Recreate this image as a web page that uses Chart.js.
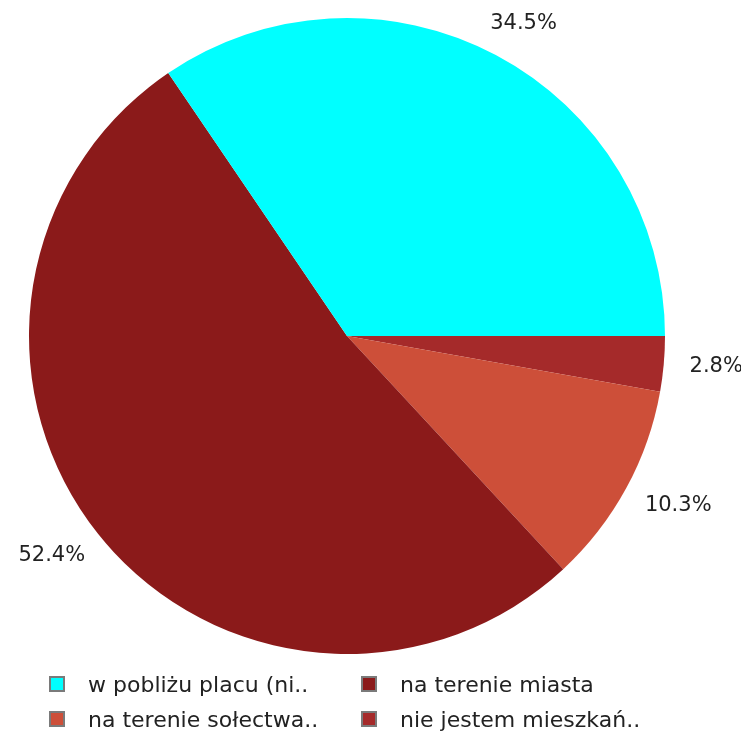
<!DOCTYPE html>
<html>
<head>
<meta charset="utf-8">
<script src="https://cdn.jsdelivr.net/npm/chart.js@4/dist/chart.umd.min.js"></script>
<style>
  body { margin: 0; background: #fff; }
  .wrap { position: relative; width: 741px; height: 736px; }
  .legend { position: absolute; left: 0; top: 0; width: 741px; height: 736px; pointer-events: none;
            font-family: "DejaVu Sans", sans-serif; font-size: 22px; color: #222; }
  .legend__item { position: absolute; white-space: nowrap; line-height: 24px; }
  .legend__box { position: absolute; left: 0; top: 3px; width: 16px; height: 16px; border: 2px solid #7a7a7a; box-sizing: border-box; }
  .legend__text { position: absolute; left: 39px; top: 0; }
</style>
</head>
<body>
<div class="wrap">
  <canvas id="pie" width="741" height="736"></canvas>
  <div class="legend" id="legend"></div>
</div>
<script>
const categories = ['w pobliżu placu (ni..', 'na terenie miasta', 'na terenie sołectwa..', 'nie jestem mieszkań..']
const values = [34.5, 52.4, 10.3, 2.8]
const colors = ['#00ffff', '#8b1a1a', '#cd4f39', '#a52a2a']
const percentLabels = ['34.5%', '52.4%', '10.3%', '2.8%']

// the reference runs counter-clockwise from 3 o'clock, chart.js runs clockwise,
// so feed the slices in reverse
const order = [3, 2, 1, 0]

const pieLabels = {
    id: 'pieLabels',
    afterDatasetsDraw(chart) {
        const c = chart.ctx
        const meta = chart.getDatasetMeta(0)
        c.save()
        c.font = '21px "DejaVu Sans", sans-serif'
        c.fillStyle = '#222'
        c.textAlign = 'center'
        c.textBaseline = 'middle'
        meta.data.forEach((arc, i) => {
            const mid = (arc.startAngle + arc.endAngle) / 2
            const txt = percentLabels[order[i]]
            const halfW = c.measureText(txt).width / 2
            const halfH = 9
            const r = arc.outerRadius + 26
            // push the text box out so its inner edge sits on the anchor
            const x = arc.x + Math.cos(mid) * r + Math.cos(mid) * halfW
            const y = arc.y + Math.sin(mid) * r + Math.sin(mid) * halfH
            c.fillText(txt, x, y)
        })
        c.restore()
    }
}

new Chart(document.getElementById('pie'), {
    type: 'pie',
    data: {
        labels: order.map(i => categories[i]),
        datasets: [{
            data: order.map(i => values[i]),
            backgroundColor: order.map(i => colors[i]),
            borderWidth: 0
        }]
    },
    options: {
        responsive: false,
        animation: false,
        rotation: 90,
        layout: { padding: { left: 29, right: 76, top: 18, bottom: 82 } },
        plugins: {
            legend: { display: false },
            tooltip: { enabled: false }
        }
    },
    plugins: [pieLabels]
});

// legend, 2 columns
const legend = document.getElementById('legend')
const colX = [49, 361]
const rowY = [673, 708]
categories.forEach((name, i) => {
    const item = document.createElement('div')
    item.className = 'legend__item'
    item.style.left = colX[i % 2] + 'px'
    item.style.top = rowY[Math.floor(i / 2)] + 'px'
    item.innerHTML = `<span class="legend__box" style="background:${colors[i]}"></span><span class="legend__text">${name}</span>`
    legend.appendChild(item)
})
</script>
</body>
</html>
